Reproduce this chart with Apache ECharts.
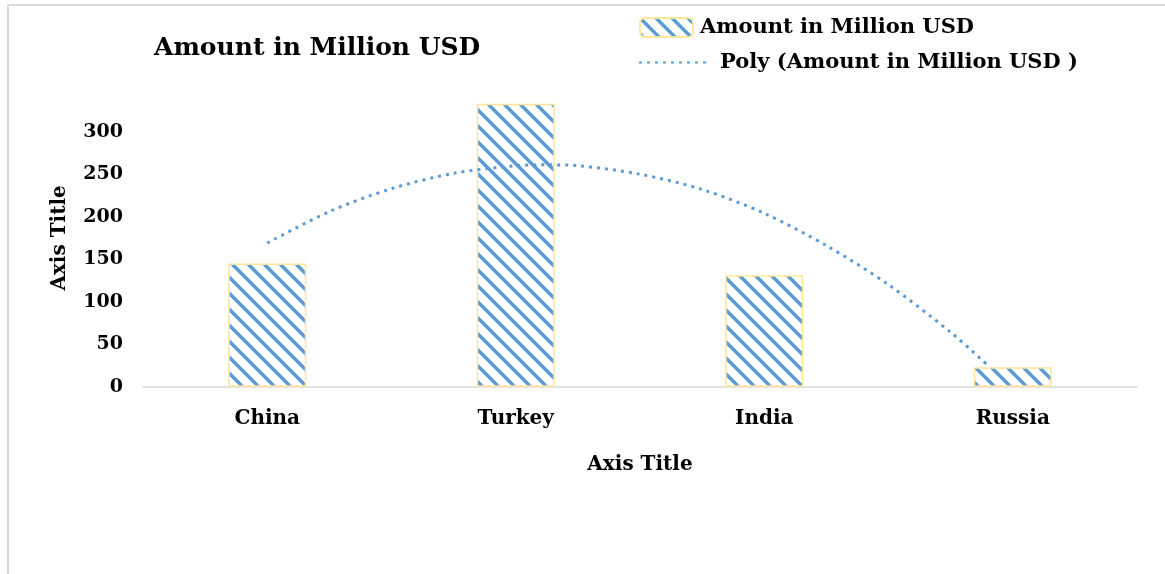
<!DOCTYPE html>
<html>
<head>
<meta charset="utf-8">
<script src="https://cdn.jsdelivr.net/npm/echarts@6/dist/echarts.min.js"></script>
<style>
html,body{margin:0;padding:0;background:#fff;}
#c{width:1165px;height:574px;}
</style>
</head>
<body>
<div id="c"></div>
<script>
var categories = ['China', 'Turkey', 'India', 'Russia'];
var amounts = [145, 333, 131, 23];
// polynomial trendline: [category position, value]
var trendPoints = [[0,169],[0.25,206],[0.5,233],[0.75,251],[1,260],[1.125,261],[1.25,260],[1.5,250],[1.75,232],[2,204],[2.25,166],[2.5,120],[2.75,64],[2.9,25]];
var yTicks = [0, 50, 100, 150, 200, 250, 300, 350];

var FONT = '"DejaVu Serif", "Liberation Serif", serif';
var BLUE = '#5B9BD5';

function makeHatch() {
  var s = 16;
  var cv = document.createElement('canvas');
  cv.width = s; cv.height = s;
  var ctx = cv.getContext('2d');
  ctx.fillStyle = '#ffffff';
  ctx.fillRect(0, 0, s, s);
  ctx.strokeStyle = BLUE;
  ctx.lineWidth = 3.4;
  for (var k = -1; k <= 1; k++) {
    ctx.beginPath();
    ctx.moveTo(-s, -s + k * s);
    ctx.lineTo(2 * s, 2 * s + k * s);
    ctx.stroke();
  }
  return cv;
}
var hatch = { image: makeHatch(), repeat: 'repeat' };

var chart = echarts.init(document.getElementById('c'), null, { renderer: 'canvas' });
chart.setOption({
  animation: false,
  backgroundColor: '#ffffff',
  textStyle: { fontFamily: FONT },
  title: {
    text: 'Amount in Million USD',
    left: 149, top: 31,
    textStyle: { fontFamily: FONT, fontWeight: 'bold', fontSize: 25, color: '#000' }
  },
  legend: [{
    data: ['Amount in Million USD'],
    left: 634, top: 12,
    itemWidth: 53, itemHeight: 19, itemGap: 0,
    textStyle: { fontFamily: FONT, fontWeight: 'bold', fontSize: 21, color: '#000', padding: [0, 0, 0, 2] }
  }, {
    data: ['Poly (Amount in Million USD )'],
    left: 633, top: 47,
    itemWidth: 72, itemHeight: 14,
    itemStyle: { opacity: 0 },
    textStyle: { fontFamily: FONT, fontWeight: 'bold', fontSize: 21, color: '#000', padding: [0, 0, 0, 4] }
  }],
  grid: { left: 143, right: 28, top: 89.2, bottom: 187.3 },
  xAxis: [{
    type: 'category',
    data: categories,
    axisLine: { lineStyle: { color: '#D9D9D9', width: 1.5 } },
    axisTick: { show: false },
    axisLabel: { margin: 22, fontFamily: FONT, fontWeight: 'bold', fontSize: 20, color: '#000' },
    name: 'Axis Title',
    nameLocation: 'middle',
    nameGap: 68,
    nameTextStyle: { fontFamily: FONT, fontWeight: 'bold', fontSize: 20, color: '#000' }
  }, {
    type: 'value',
    min: -0.5, max: 3.5,
    show: false
  }],
  yAxis: {
    type: 'value',
    min: yTicks[0], max: yTicks[yTicks.length - 1], interval: yTicks[1] - yTicks[0],
    axisLine: { show: false },
    axisTick: { show: false },
    splitLine: { show: false },
    axisLabel: { margin: 20, showMaxLabel: false, fontFamily: FONT, fontWeight: 'bold', fontSize: 19, color: '#000' },
    name: 'Axis Title',
    nameLocation: 'middle',
    nameGap: 73,
    nameTextStyle: { fontFamily: FONT, fontWeight: 'bold', fontSize: 20, color: '#000' }
  },
  graphic: [
    { type: 'line', shape: { x1: 8, y1: 5, x2: 8, y2: 574 }, style: { stroke: '#D9D9D9', lineWidth: 2 }, silent: true },
    { type: 'line', shape: { x1: 8, y1: 5, x2: 1165, y2: 5 }, style: { stroke: '#D9D9D9', lineWidth: 2 }, silent: true }
  ],
  series: [{
    name: 'Amount in Million USD',
    type: 'bar',
    data: amounts,
    barWidth: 78,
    itemStyle: { color: hatch, borderColor: '#FFE699', borderWidth: 1.5 }
  }, {
    name: 'Poly (Amount in Million USD )',
    type: 'line',
    xAxisIndex: 1,
    data: trendPoints,
    smooth: 0.3,
    symbol: 'none',
    z: 5,
    lineStyle: { color: BLUE, width: 3, type: [3, 5], cap: 'butt' },
    itemStyle: { color: BLUE }
  }]
});
</script>
</body>
</html>
